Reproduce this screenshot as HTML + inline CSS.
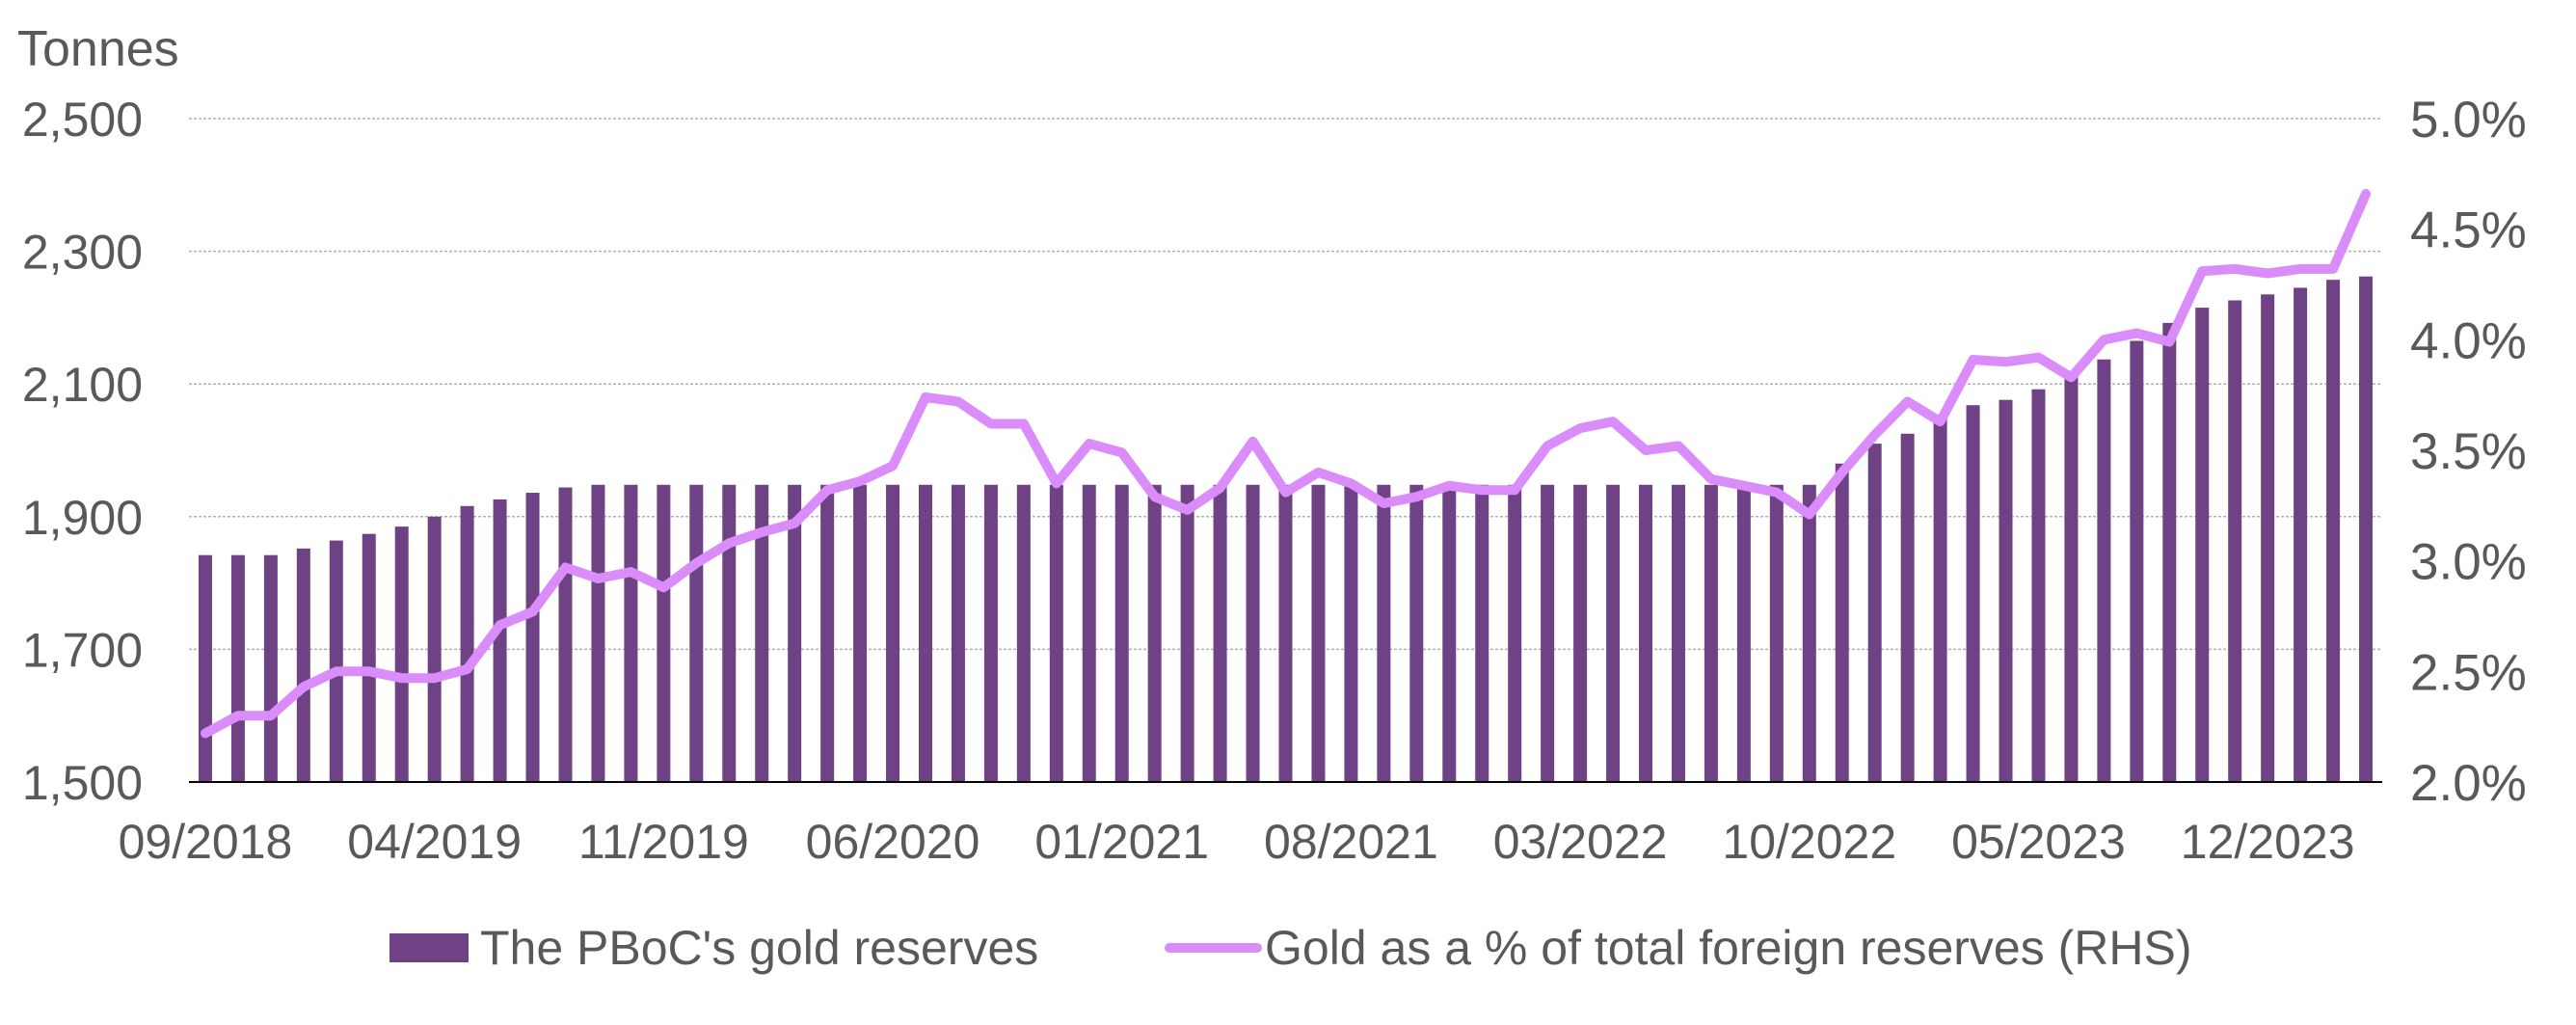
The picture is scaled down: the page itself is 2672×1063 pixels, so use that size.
<!DOCTYPE html>
<html><head><meta charset="utf-8"><style>
html,body{margin:0;padding:0;background:#fff;}
svg text{font-family:"Liberation Sans",Arial,sans-serif;fill:#595959;}
</style></head><body>
<svg id="c" width="2672" height="1058" xmlns="http://www.w3.org/2000/svg"></svg>
<script>
const s=document.getElementById('c');
const L=196,R=2471,T=123,B=811;
const bars=[1842,1842,1842,1852,1864,1874,1885,1900,1916,1926,1936,1944,1948];
while(bars.length<50)bars.push(1948);
bars.push(1980,2010,2025,2050,2068,2076,2092,2113,2137,2165,2192,2215,2226,2235,2245,2257,2262);
const pct=[2.22,2.30,2.30,2.43,2.50,2.50,2.47,2.47,2.51,2.71,2.77,2.97,2.92,2.95,2.88,2.99,3.08,3.13,3.17,3.32,3.36,3.43,3.74,3.72,3.62,3.62,3.35,3.53,3.49,3.29,3.23,3.33,3.54,3.31,3.40,3.35,3.26,3.29,3.34,3.32,3.32,3.52,3.60,3.63,3.50,3.52,3.37,3.34,3.31,3.21,3.40,3.57,3.72,3.63,3.91,3.90,3.92,3.83,4.00,4.03,3.99,4.31,4.32,4.30,4.32,4.32,4.66];
const n=67,w=(R-L)/n;
const yL=v=>B-(v-1500)/1000*(B-T);
const yR=v=>B-(v-2)/3*(B-T);
let h='';
h+='<text x="18" y="68" font-size="52">Tonnes</text>';
for(let k=0;k<=5;k++){
 const v=1500+200*k,y=yL(v);
 if(k>0)h+=`<line x1="${L}" x2="${R}" y1="${y}" y2="${y}" stroke="#b0b0b0" stroke-width="1.5" stroke-dasharray="3,2"/>`;
 h+=`<text x="148" y="${y+18}" font-size="50" text-anchor="end">${v.toLocaleString('en-US')}</text>`;
}
for(let k=0;k<=6;k++){
 const v=2+0.5*k,y=yR(v);
 h+=`<text x="2500" y="${y+19}" font-size="53">${v.toFixed(1)}%</text>`;
}
for(let i=0;i<n;i++){
 const cx=L+w*(i+0.5),y=yL(bars[i]);
 h+=`<rect x="${cx-7}" y="${y}" width="14" height="${B-y}" fill="#6f4286"/>`;
}
h+=`<line x1="${L}" x2="${R}" y1="${B}" y2="${B}" stroke="#000" stroke-width="2"/>`;
const pts=pct.map((v,i)=>`${(L+w*(i+0.5)).toFixed(1)},${yR(v).toFixed(1)}`).join(' ');
h+=`<polyline points="${pts}" fill="none" stroke="#d98cfa" stroke-width="10" stroke-linejoin="round" stroke-linecap="round"/>`;
const labs=['09/2018','04/2019','11/2019','06/2020','01/2021','08/2021','03/2022','10/2022','05/2023','12/2023'];
labs.forEach((t,j)=>{const cx=L+w*(j*7+0.5);h+=`<text x="${cx}" y="890" font-size="50" text-anchor="middle">${t}</text>`;});
h+='<rect x="404" y="968" width="82" height="30" fill="#6f4286"/>';
h+='<text x="498" y="1000" font-size="50">The PBoC\'s gold reserves</text>';
h+='<line x1="1213" x2="1304" y1="983" y2="983" stroke="#d98cfa" stroke-width="10" stroke-linecap="round"/>';
h+='<text x="1312" y="1000" font-size="50">Gold as a % of total foreign reserves (RHS)</text>';
s.innerHTML=h;
</script>
</body></html>
